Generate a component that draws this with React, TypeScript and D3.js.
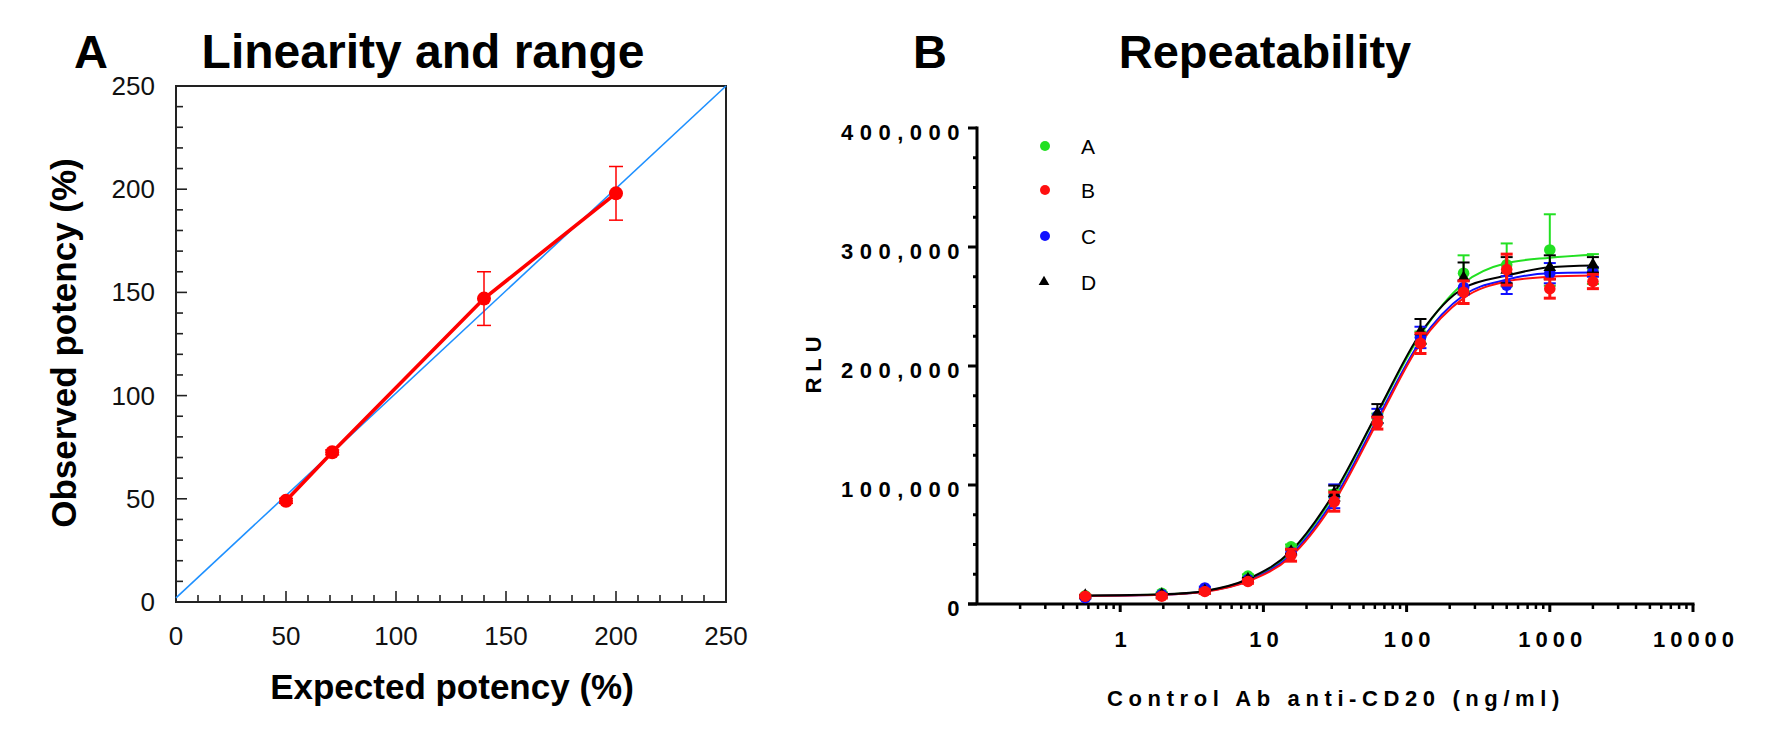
import { useEffect, useRef } from 'react';
import * as d3 from 'd3';

// Panel A: linearity and range
const expected = [50, 71, 140, 200];
const observed = [49, 72.5, 147, 198];
const observedErr = [1.2, 1.2, 13, 13];
const fitX = [0, 250];
const fitY = [2, 250];
const linTicks = [0, 50, 100, 150, 200, 250];

// Panel B: repeatability (RLU vs concentration, ng/ml)
const conc = [0.57, 1.95, 3.9, 7.8, 15.6, 31.25, 62.5, 125, 250, 500, 1000, 2000];
const seriesNames = ['A', 'B', 'C', 'D'];
const seriesColors = ['#22e022', '#ff1010', '#1010ff', '#000000'];

const meanA = [6900, 9000, 12300, 23400, 48000, 92500, 156000, 224000, 278000, 285000, 297500, 281500];
const meanB = [6500, 6500, 10500, 18900, 41000, 86000, 152000, 219000, 262000, 281000, 265000, 271000];
const meanC = [5400, 8000, 13500, 20500, 43500, 90500, 158000, 224000, 266000, 268000, 278000, 279000];
const meanD = [7000, 8000, 11000, 21000, 44000, 93000, 160000, 229000, 274000, 280500, 283000, 285000];

const sdA = [500, 800, 800, 1500, 2000, 3000, 4000, 5000, 15000, 18000, 30000, 12500];
const sdB = [1000, 1500, 1500, 1500, 5000, 8000, 5000, 8500, 9500, 13000, 8000, 6000];
const sdC = [500, 800, 1000, 1200, 2500, 10000, 6000, 9000, 6000, 7500, 8500, 4000];
const sdD = [500, 600, 800, 1000, 2000, 6500, 8000, 10500, 13000, 11000, 10000, 6500];

// fitted curves, read at each concentration
const fitA = [7000, 8000, 10800, 20500, 43500, 92000, 160000, 226000, 269500, 286500, 291000, 293500];
const fitB = [6900, 7800, 10300, 19000, 40000, 86000, 153000, 219000, 257000, 271000, 275000, 276000];
const fitC = [6900, 7800, 10500, 19500, 41500, 88500, 155500, 221000, 259500, 272500, 278000, 278500];
const fitD = [7000, 8100, 11000, 21000, 44500, 93500, 161000, 227500, 265500, 276000, 283000, 284500];

const rluTicks = [0, 100000, 200000, 300000, 400000];
const concTicks = [1, 10, 100, 1000, 10000];

const FONT = '"Liberation Sans", Arial, Helvetica, sans-serif';

export default function App() {
  const ref = useRef<SVGSVGElement | null>(null);

  useEffect(() => {
    const svg = d3.select(ref.current);
    if (!ref.current) return;
    svg.selectAll('*').remove();
    svg.attr('font-family', FONT);

    // ---------- Panel A ----------
    const a = { l: 176, r: 726, t: 86, b: 602 };
    const xA = d3.scaleLinear().domain([0, 250]).range([a.l, a.r]);
    const yA = d3.scaleLinear().domain([0, 250]).range([a.b, a.t]);
    const gA = svg.append('g');

    gA.append('text').attr('x', 91).attr('y', 68).attr('text-anchor', 'middle')
      .attr('font-size', 47).attr('font-weight', 700).text('A');
    gA.append('text').attr('x', 423).attr('y', 68).attr('text-anchor', 'middle')
      .attr('font-size', 48).attr('font-weight', 700).text('Linearity and range');

    // inward ticks
    d3.range(10, 250, 10).forEach(v => {
      const len = v % 50 === 0 ? 11 : 7;
      gA.append('line').attr('x1', xA(v)).attr('x2', xA(v)).attr('y1', a.b).attr('y2', a.b - len)
        .attr('stroke', '#222').attr('stroke-width', 1.6);
      gA.append('line').attr('y1', yA(v)).attr('y2', yA(v)).attr('x1', a.l).attr('x2', a.l + len)
        .attr('stroke', '#222').attr('stroke-width', 1.6);
    });
    gA.append('rect').attr('x', a.l).attr('y', a.t).attr('width', a.r - a.l).attr('height', a.b - a.t)
      .attr('fill', 'none').attr('stroke', '#222').attr('stroke-width', 2);

    linTicks.forEach(v => {
      gA.append('text').attr('x', xA(v)).attr('y', a.b + 43).attr('text-anchor', 'middle')
        .attr('font-size', 26).attr('fill', '#111').text(v);
      gA.append('text').attr('x', a.l - 21).attr('y', yA(v) + 9).attr('text-anchor', 'end')
        .attr('font-size', 26).attr('fill', '#111').text(v);
    });

    gA.append('text').attr('x', 452).attr('y', 699).attr('text-anchor', 'middle')
      .attr('font-size', 35).attr('font-weight', 700).text('Expected potency (%)');
    gA.append('text').attr('transform', `translate(76,343) rotate(-90)`).attr('text-anchor', 'middle')
      .attr('font-size', 35).attr('font-weight', 700).text('Observed potency (%)');

    // regression line
    const fitPts = fitX.map((x, i) => [x, fitY[i]] as [number, number]);
    gA.append('path').datum(fitPts)
      .attr('d', d3.line<[number, number]>().x(d => xA(d[0])).y(d => yA(d[1])))
      .attr('fill', 'none').attr('stroke', '#1e90ff').attr('stroke-width', 1.6);

    const obsPts = expected.map((x, i) => [x, observed[i]] as [number, number]);
    gA.append('path').datum(obsPts)
      .attr('d', d3.line<[number, number]>().x(d => xA(d[0])).y(d => yA(d[1])))
      .attr('fill', 'none').attr('stroke', '#ff0000').attr('stroke-width', 3.6);

    obsPts.forEach((p, i) => {
      const e = observedErr[i];
      const cx = xA(p[0]);
      gA.append('line').attr('x1', cx).attr('x2', cx).attr('y1', yA(p[1] - e)).attr('y2', yA(p[1] + e))
        .attr('stroke', '#ff0000').attr('stroke-width', 1.5);
      [p[1] - e, p[1] + e].forEach(v => {
        gA.append('line').attr('x1', cx - 7).attr('x2', cx + 7).attr('y1', yA(v)).attr('y2', yA(v))
          .attr('stroke', '#ff0000').attr('stroke-width', 1.5);
      });
      gA.append('circle').attr('cx', cx).attr('cy', yA(p[1])).attr('r', 7).attr('fill', '#ff0000');
    });

    // ---------- Panel B ----------
    const b = { l: 977, r: 1693, t: 128, b: 604 };
    const xB = d3.scaleLog().domain([0.1, 10000]).range([b.l, b.r]);
    const yB = d3.scaleLinear().domain([0, 400000]).range([b.b, b.t]);
    const gB = svg.append('g');

    gB.append('text').attr('x', 930).attr('y', 68).attr('text-anchor', 'middle')
      .attr('font-size', 47).attr('font-weight', 700).text('B');
    gB.append('text').attr('x', 1265).attr('y', 68).attr('text-anchor', 'middle')
      .attr('font-size', 47).attr('font-weight', 700).text('Repeatability');

    // y axis
    gB.append('line').attr('x1', b.l).attr('x2', b.l).attr('y1', b.t - 1.5).attr('y2', b.b)
      .attr('stroke', '#000').attr('stroke-width', 3);
    d3.range(0, 400001, 25000).forEach(v => {
      const major = v % 100000 === 0;
      gB.append('line').attr('x1', b.l).attr('x2', b.l - (major ? 9 : 4)).attr('y1', yB(v)).attr('y2', yB(v))
        .attr('stroke', '#000').attr('stroke-width', 3);
    });
    rluTicks.forEach(v => {
      gB.append('text').attr('x', 966).attr('y', yB(v) + 12).attr('text-anchor', 'end')
        .attr('font-size', 22).attr('font-weight', 700).attr('letter-spacing', 6.5)
        .text(d3.format(',')(v));
    });

    // x axis
    gB.append('line').attr('x1', b.l - 9).attr('x2', b.r + 1.5).attr('y1', b.b).attr('y2', b.b)
      .attr('stroke', '#000').attr('stroke-width', 3);
    const minor: number[] = [];
    [0.1, 1, 10, 100, 1000].forEach(dec => d3.range(2, 10).forEach(k => minor.push(dec * k)));
    minor.forEach(v => {
      gB.append('line').attr('x1', xB(v)).attr('x2', xB(v)).attr('y1', b.b).attr('y2', b.b + 5)
        .attr('stroke', '#000').attr('stroke-width', 2.5);
    });
    concTicks.forEach(v => {
      gB.append('line').attr('x1', xB(v)).attr('x2', xB(v)).attr('y1', b.b).attr('y2', b.b + 8)
        .attr('stroke', '#000').attr('stroke-width', 3);
      gB.append('text').attr('x', xB(v) + 3).attr('y', 647).attr('text-anchor', 'middle')
        .attr('font-size', 22).attr('font-weight', 700).attr('letter-spacing', 5)
        .text(v);
    });

    gB.append('text').attr('x', 1336).attr('y', 706).attr('text-anchor', 'middle')
      .attr('font-size', 22).attr('font-weight', 700).attr('letter-spacing', 5.6)
      .text('Control Ab anti-CD20 (ng/ml)');
    gB.append('text').attr('transform', `translate(821,362) rotate(-90)`).attr('text-anchor', 'middle')
      .attr('font-size', 22).attr('font-weight', 700).attr('letter-spacing', 6).text('RLU');

    const means = [meanA, meanB, meanC, meanD];
    const sds = [sdA, sdB, sdC, sdD];
    const fits = [fitA, fitB, fitC, fitD];

    const curve = d3.line<number>()
      .x((_, i) => xB(conc[i]))
      .y(d => yB(d))
      .curve(d3.curveMonotoneX);

    [0, 2, 1, 3].forEach(s => {
      gB.append('path').datum(fits[s]).attr('d', curve)
        .attr('fill', 'none').attr('stroke', seriesColors[s]).attr('stroke-width', 2);
    });

    const tri = d3.symbol().type(d3.symbolTriangle).size(70);
    [0, 2, 3, 1].forEach(s => {
      const col = seriesColors[s];
      conc.forEach((c, i) => {
        const cx = xB(c);
        const m = means[s][i];
        const e = sds[s][i];
        const bw = s === 1 ? 3 : 2;
        gB.append('line').attr('x1', cx).attr('x2', cx).attr('y1', yB(m - e)).attr('y2', yB(m + e))
          .attr('stroke', col).attr('stroke-width', bw);
        [m - e, m + e].forEach(v => {
          gB.append('line').attr('x1', cx - 6).attr('x2', cx + 6).attr('y1', yB(v)).attr('y2', yB(v))
            .attr('stroke', col).attr('stroke-width', bw);
        });
        if (s === 3) {
          gB.append('path').attr('d', tri).attr('transform', `translate(${cx},${yB(m)})`).attr('fill', col);
        } else {
          gB.append('circle').attr('cx', cx).attr('cy', yB(m)).attr('r', 5.8).attr('fill', col);
        }
      });
    });

    // legend
    const legend = gB.append('g');
    const legendY = [146, 190, 236, 282];
    seriesNames.forEach((name, i) => {
      const y = legendY[i];
      if (i === 3) {
        legend.append('path').attr('d', d3.symbol().type(d3.symbolTriangle).size(50))
          .attr('transform', `translate(1044,${y})`).attr('fill', seriesColors[i]);
      } else {
        legend.append('circle').attr('cx', 1045).attr('cy', y).attr('r', 5).attr('fill', seriesColors[i]);
      }
      legend.append('text').attr('x', 1081).attr('y', y + 8).attr('font-size', 21).attr('fill', '#000').text(name);
    });
  }, []);

  return (
    <svg ref={ref} width={1771} height={729}
      style={{ position: 'absolute', left: 0, top: 0, background: '#fff' }} />
  );
}
